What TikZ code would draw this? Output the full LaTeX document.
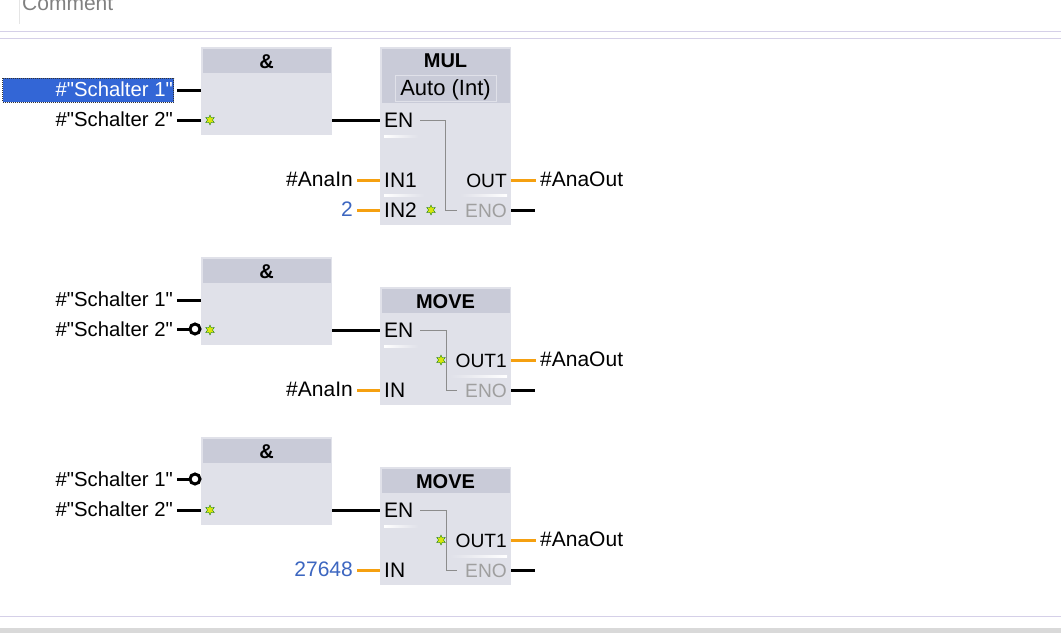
\documentclass[tikz,border=0pt]{standalone}
\usepackage{fontspec}
\setmainfont{Liberation Sans}[Ligatures=TeXOff]
\usetikzlibrary{shapes.geometric}
\definecolor{boxbody}{HTML}{E0E1E9}
\definecolor{boxhead}{HTML}{C9CBD8}
\definecolor{rulecol}{HTML}{D5D0E8}
\definecolor{wireorange}{HTML}{F5A010}
\definecolor{constblue}{HTML}{3C66C0}
\definecolor{selblue}{HTML}{3366D6}

\begin{document}
\begin{tikzpicture}[x=1pt, y=-1pt,
    every node/.style={font=\fontsize{21}{24}\selectfont, text height=14pt, text depth=0pt, inner ysep=0pt, inner xsep=4pt},
    fbody/.style={fill=boxbody, minimum width=131pt, inner sep=0pt},
    fhead/.style={fill=boxhead, minimum width=128pt, inner sep=0pt, font=\fontsize{20}{24}\selectfont\bfseries},
    lbl/.style={anchor=east},
    swlbl/.style={anchor=east, font=\fontsize{20.3}{24}\selectfont},
    lblout/.style={anchor=west},
    pin/.style={anchor=west},
    pout/.style={anchor=east, font=\fontsize{19.2}{24}\selectfont},
    bool/.style={line width=3pt, black},
    ana/.style={line width=3pt, wireorange},
    bypass/.style={line width=0.8pt, gray!90},
    neg/.style={circle, draw=black, fill=white, line width=3pt, minimum size=10pt, inner sep=0pt, text height=, text depth=},
    flag/.style={star, star points=6, star point ratio=2, fill=yellow!85!green, draw=green!45!black, line width=0.3pt, minimum size=10pt, inner sep=0pt, text height=, text depth=},
    fade/.style={left color=white, right color=boxbody, draw=none}]

    \useasboundingbox (0,0) rectangle (1061,633);
    \clip (0,0) rectangle (1061,633);

    % header of the window
    \node[anchor=west, text=gray] (comment) at (18,3) {Comment};
    \draw[line width=1pt, gray!20] (19,0) -- (19,24);
    \draw[line width=1pt, rulecol] (0,31) -- (1061,31);
    \draw[line width=1pt, rulecol] (0,38) -- (1061,38);
    \draw[line width=1pt, rulecol] (0,616) -- (1061,616);
    \fill[gray!30] (0,628) rectangle (1061,633);

    % network 1
    \node[fbody, minimum height=88pt] (andA) at (266.5,91) {};
    \node[fhead, minimum height=24pt] (andAhead) at (266.5,61) {\&};
    \node[fbody, minimum height=178pt] (mul) at (445.5,136) {};
    \node[fhead, minimum height=54pt, text height=40pt] (mulhead) at (445.5,76) {};
    \node[font=\fontsize{20}{24}\selectfont\bfseries] (multitle) at (445.5,60) {MUL};
    \node[draw=boxbody, line width=1pt, minimum width=101pt, minimum height=26pt, inner sep=0pt, font=\fontsize{22}{24}\selectfont] (multype) at (445.5,88) {Auto (Int)};

    \node[fill=selblue, draw=black!80, densely dotted, line width=1pt, minimum width=171pt, minimum height=24pt, inner sep=0pt] (sel) at (88,90) {};
    \node[swlbl, text=white] (s1a) at (177,89) {\#"Schalter 1"};
    \node[swlbl] (s2a) at (177,119) {\#"Schalter 2"};
    \node[lbl] (inA) at (357,179) {\#AnaIn};
    \node[lbl, text=constblue] (constA) at (357,209) {2};
    \node[lblout] (outA) at (536,179) {\#AnaOut};
    \node[flag] (flagA) at (210,120) {};

    \node[pin] (enA) at (380,120) {EN};
    \node[pin] (in1A) at (380,180) {IN1};
    \node[pin] (in2A) at (380,210) {IN2};
    \node[flag] (flagB) at (431,210) {};
    \node[pout] (qA) at (511,180) {OUT};
    \node[pout, text=gray!75] (enoA) at (511,210) {ENO};
    \coordinate (enoAend) at (535,210);

    \draw[bool] (s1a.east |- 0,90) -- (andA.west |- 0,90);
    \draw[bool] (s2a.east |- 0,120) -- (andA.west |- 0,120);
    \draw[bool] (andA.east |- enA.west) -- (enA.west);
    \draw[ana] (inA.east |- in1A.west) -- (in1A.west);
    \draw[ana] (constA.east |- in2A.west) -- (in2A.west);
    \draw[ana] (qA.east) -- (outA.west |- qA.east);
    \draw[bool] (enoA.east) -- (enoAend);
    \draw[bypass] (420,120) -| (445,210) -- (457,210);
    \fill[fade] (384,135) rectangle (418,137);
    \fill[fade] (384,194) rectangle (424,196);
    \fill[fade, left color=boxbody, right color=white] (460,194) rectangle (507,196);

    % network 2
    \node[fbody, minimum height=88pt] (andB) at (266.5,301) {};
    \node[fhead, minimum height=24pt] (andBhead) at (266.5,271) {\&};
    \node[fbody, minimum height=118pt] (moveB) at (445.5,346) {};
    \node[fhead, minimum height=24pt] (moveBhead) at (445.5,301) {MOVE};

    \node[swlbl] (s1b) at (177,299) {\#"Schalter 1"};
    \node[swlbl] (s2b) at (177,329) {\#"Schalter 2"};
    \node[neg] (negB) at (195,329) {};
    \node[lbl] (inB) at (357,389) {\#AnaIn};
    \node[lblout] (outB) at (536,359) {\#AnaOut};
    \node[flag] (flagC) at (210,330) {};

    \node[pin] (enB) at (380,330) {EN};
    \node[pin] (in1B) at (380,390) {IN};
    \node[flag] (flagD) at (441,360) {};
    \node[pout] (qB) at (511,360) {OUT1};
    \node[pout, text=gray!75] (enoB) at (511,390) {ENO};
    \coordinate (enoBend) at (535,390);

    \draw[bool] (s1b.east |- 0,300) -- (andB.west |- 0,300);
    \draw[bool] (s2b.east |- 0,329) -- (negB.west);
    \draw[bool] (andB.east |- enB.west) -- (enB.west);
    \draw[ana] (inB.east |- in1B.west) -- (in1B.west);
    \draw[ana] (qB.east) -- (outB.west |- qB.east);
    \draw[bool] (enoB.east) -- (enoBend);
    \draw[bypass] (420,330) -| (446,390) -- (457,390);
    \fill[fade] (384,345) rectangle (418,347);
    \fill[fade, left color=boxbody, right color=white] (450,375) rectangle (507,377);

    % network 3
    \node[fbody, minimum height=88pt] (andC) at (266.5,481) {};
    \node[fhead, minimum height=24pt] (andChead) at (266.5,451) {\&};
    \node[fbody, minimum height=118pt] (moveC) at (445.5,526) {};
    \node[fhead, minimum height=24pt] (moveChead) at (445.5,481) {MOVE};

    \node[swlbl] (s1c) at (177,479) {\#"Schalter 1"};
    \node[swlbl] (s2c) at (177,509) {\#"Schalter 2"};
    \node[neg] (negC) at (195,479) {};
    \node[lbl, text=constblue] (constC) at (357,569) {27648};
    \node[lblout] (outC) at (536,539) {\#AnaOut};
    \node[flag] (flagE) at (210,510) {};

    \node[pin] (enC) at (380,510) {EN};
    \node[pin] (in1C) at (380,570) {IN};
    \node[flag] (flagF) at (441,540) {};
    \node[pout] (qC) at (511,540) {OUT1};
    \node[pout, text=gray!75] (enoC) at (511,570) {ENO};
    \coordinate (enoCend) at (535,570);

    \draw[bool] (s1c.east |- 0,479) -- (negC.west);
    \draw[bool] (s2c.east |- 0,510) -- (andC.west |- 0,510);
    \draw[bool] (andC.east |- enC.west) -- (enC.west);
    \draw[ana] (constC.east |- in1C.west) -- (in1C.west);
    \draw[ana] (qC.east) -- (outC.west |- qC.east);
    \draw[bool] (enoC.east) -- (enoCend);
    \draw[bypass] (420,510) -| (446,570) -- (457,570);
    \fill[fade] (384,525) rectangle (418,527);
    \fill[fade, left color=boxbody, right color=white] (450,555) rectangle (507,557);
\end{tikzpicture}
\end{document}
